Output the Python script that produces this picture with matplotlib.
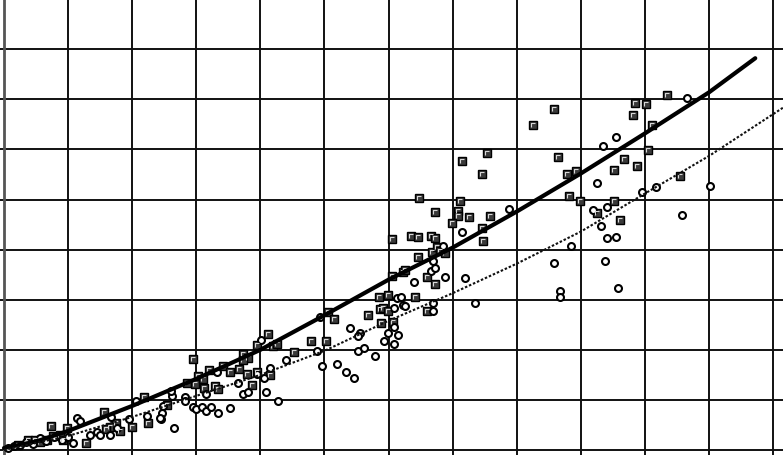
import matplotlib
matplotlib.use("Agg")
import matplotlib.pyplot as plt
from matplotlib.path import Path

# ---- data (grid units) ----
sq_x = [10.34, 9.84, 10.02, 9.81, 8.58, 8.25, 10.11, 10.05, 8.64, 9.67, 9.88, 8.92, 8.78, 9.52,
        10.55, 8.81, 8.99, 9.52, 9.25, 9.61, 7.54, 7.15, 7.46, 6.47, 7.11, 6.72, 7.08, 7.08, 7.25,
        7.58, 6.99, 7.46, 6.35, 6.46, 6.66, 6.72, 6.05, 7.47, 6.68, 6.76, 6.80, 6.88, 6.46, 6.05,
        6.22, 6.26, 6.60, 6.72, 5.85, 5.99, 6.41, 5.87, 5.91, 5.99, 5.68, 6.07, 5.88, 6.60, 5.05,
        5.15, 4.79, 5.02, 4.12, 3.95, 4.20, 4.26, 4.52, 3.73, 3.81, 3.73, 2.95, 3.20, 3.42, 3.53,
        3.67, 3.79, 3.95, 4.15, 3.03, 3.10, 2.85, 2.98, 3.12, 3.29, 3.34, 3.87, 2.54, 2.18, 1.56,
        0.73, 0.98, 1.28, 2.00, 2.25, 1.75, 1.65, 0.37, 0.48, 0.56, 0.67, 0.76, 0.87, 0.92, 1.59,
        1.81, 0.22]
sq_y = [7.09, 6.93, 6.91, 6.69, 6.81, 6.49, 6.49, 5.99, 5.85, 5.81, 5.67, 5.57, 5.51, 5.59,
        5.47, 5.07, 4.97, 4.97, 4.73, 4.59, 5.93, 5.77, 5.51, 5.03, 4.97, 4.75, 4.77, 4.67, 4.65,
        4.67, 4.53, 4.43, 4.27, 4.25, 4.27, 4.23, 4.21, 4.17, 3.95, 4.05, 3.97, 3.93, 3.85, 3.47,
        3.55, 3.59, 3.45, 3.31, 3.05, 3.09, 3.05, 2.81, 2.83, 2.77, 2.69, 2.55, 2.53, 2.77, 2.75,
        2.61, 2.18, 2.18, 2.32, 2.10, 2.08, 2.12, 1.96, 1.92, 1.84, 1.80, 1.82, 1.60, 1.68, 1.56,
        1.62, 1.52, 1.56, 1.50, 1.48, 1.42, 1.34, 1.32, 1.24, 1.28, 1.22, 1.30, 0.90, 1.06, 0.76,
        0.48, 0.44, 0.14, 0.46, 0.54, 0.54, 0.46, 0.20, 0.20, 0.16, 0.20, 0.28, 0.30, 0.20, 0.42,
        0.38, 0.10]

ci_x = [10.66, 9.55, 9.34, 9.25, 7.88, 9.95, 10.17, 11.01, 10.58, 9.19, 9.41, 9.31, 8.85, 9.41,
        9.55, 8.58, 9.38, 8.67, 8.67, 9.58, 7.15, 6.85, 6.69, 6.66, 6.72, 6.88, 7.19, 6.40, 6.13,
        6.19, 6.22, 6.26, 6.08, 6.69, 6.69, 7.35, 4.93, 5.40, 5.55, 5.52, 5.99, 6.08, 6.15, 5.93,
        6.08, 5.52, 5.62, 5.79, 4.88, 4.96, 5.20, 5.34, 5.46, 4.01, 4.40, 4.15, 3.32, 3.95, 4.06,
        3.65, 3.15, 3.73, 3.81, 4.09, 4.27, 2.62, 2.82, 2.82, 2.95, 3.00, 3.09, 3.15, 3.23, 3.34,
        3.53, 2.48, 2.46, 2.45, 2.65, 2.06, 2.61, 2.43, 1.95, 2.23, 1.67, 1.08, 1.34, 1.45, 1.50,
        1.65, 1.76, 1.14, 1.19, 0.06, 0.16, 0.25, 0.34, 0.45, 0.56, 0.66, 0.78, 0.90, 1.00]
ci_y = [7.03, 6.25, 6.07, 5.33, 4.81, 5.15, 5.25, 5.27, 4.69, 4.79, 4.85, 4.47, 4.07, 4.23,
        4.25, 3.73, 3.77, 3.17, 3.05, 3.23, 4.35, 4.07, 3.77, 3.57, 3.63, 3.45, 3.43, 3.35, 3.03,
        3.05, 2.89, 2.87, 2.83, 2.93, 2.77, 2.93, 2.65, 2.44, 2.34, 2.28, 2.34, 2.46, 2.30, 2.18,
        2.12, 1.98, 2.04, 1.88, 1.98, 1.68, 1.72, 1.56, 1.44, 2.20, 1.80, 1.64, 1.56, 1.52, 1.44,
        1.34, 1.12, 1.12, 1.16, 1.16, 0.98, 1.08, 1.06, 0.98, 0.86, 0.82, 0.86, 0.78, 0.86, 0.74,
        0.84, 0.88, 0.74, 0.62, 0.44, 0.98, 1.18, 0.64, 0.62, 0.68, 0.66, 0.14, 0.30, 0.36, 0.30,
        0.30, 0.44, 0.64, 0.58, 0.04, 0.08, 0.10, 0.16, 0.12, 0.24, 0.18, 0.26, 0.20, 0.26]

fit1_x = [0, 0.5, 1, 2, 3, 4, 5, 6, 7, 8, 9, 10, 11, 11.72]
fit1_y = [0.04, 0.17, 0.38, 0.88, 1.42, 2.00, 2.69, 3.40, 4.04, 4.76, 5.52, 6.32, 7.14, 7.82]
fit2_x = [0, 1, 2, 3, 4, 5, 6, 7, 8, 9, 10, 11, 12.15]
fit2_y = [0.0, 0.28, 0.66, 1.08, 1.50, 1.98, 2.58, 3.13, 3.72, 4.36, 5.12, 5.87, 6.83]

x_grid = list(range(0, 13))
y_grid = list(range(0, 10))

# ---- figure ----
fig = plt.figure(figsize=(7.83, 4.56), dpi=100)
ax = fig.add_axes([0, 0, 1, 1])
ax.set_xlim(-0.0624, 12.153)
ax.set_ylim(-0.0998, 9.002)
ax.axis("off")

for gx in x_grid[1:]:
    ax.axvline(gx, color="#111111", lw=1.4, zorder=1)
for gy in y_grid:
    ax.axhline(gy, color="#777777" if gy == 9 else "#111111", lw=1.4, zorder=1)
ax.axvline(0, color="#555555", lw=2.0, zorder=1)

# square markers: dark filled squares with a light corner mark
ax.plot(sq_x, sq_y, ls="none", marker="s", ms=5.6, mfc="#3a3a3a", mec="black",
        mew=1.0, zorder=3)
corner = Path([(-0.5, -0.6), (-0.5, 0.5), (0.6, 0.5)],
              [Path.MOVETO, Path.LINETO, Path.LINETO])
ax.plot(sq_x, sq_y, ls="none", marker=corner, ms=3.4, mfc="none", mec="#d8d8d8",
        mew=0.8, zorder=4)

# open circles
ax.plot(ci_x, ci_y, ls="none", marker="o", ms=5.0, mfc="white", mec="black",
        mew=1.5, zorder=3)

# fitted curves
ax.plot(fit1_x, fit1_y, color="black", lw=3.0, solid_capstyle="round", zorder=5)
ax.plot(fit2_x, fit2_y, color="#111111", lw=1.5, ls=(0, (1.2, 0.9)), zorder=5)

fig.savefig("out.png", dpi=100)
